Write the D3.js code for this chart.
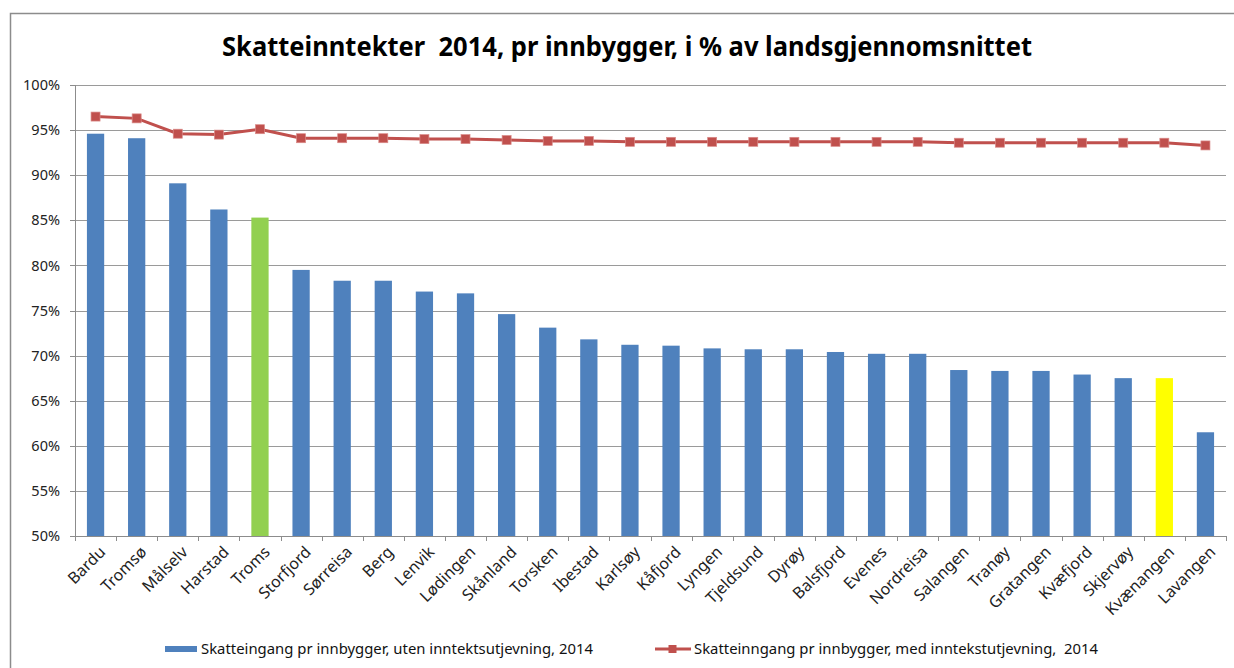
<!DOCTYPE html>
<html>
<head>
<meta charset="utf-8">
<script src="https://cdn.jsdelivr.net/npm/d3@7/dist/d3.min.js"></script>
<style>
  body { margin: 0; background: #fff; }
  svg { display: block; font-family: "Noto Sans", "Open Sans", sans-serif; }
  text { white-space: pre; }
</style>
</head>
<body>
<script>
var kommuner = ['Bardu', 'Tromsø', 'Målselv', 'Harstad', 'Troms', 'Storfjord', 'Sørreisa', 'Berg', 'Lenvik',
  'Lødingen', 'Skånland', 'Torsken', 'Ibestad', 'Karlsøy', 'Kåfjord', 'Lyngen', 'Tjeldsund', 'Dyrøy',
  'Balsfjord', 'Evenes', 'Nordreisa', 'Salangen', 'Tranøy', 'Gratangen', 'Kvæfjord', 'Skjervøy',
  'Kvænangen', 'Lavangen'];

// uten inntektsutjevning (stolper)
var utenUtjevning = [94.6, 94.1, 89.1, 86.2, 85.3, 79.5, 78.3, 78.3, 77.1, 76.9, 74.6, 73.1, 71.8, 71.2,
  71.1, 70.8, 70.7, 70.7, 70.4, 70.2, 70.2, 68.4, 68.3, 68.3, 67.9, 67.5, 67.5, 61.5];

// med inntektsutjevning (linje)
var medUtjevning = [96.5, 96.3, 94.6, 94.5, 95.1, 94.1, 94.1, 94.1, 94.0, 94.0, 93.9, 93.8, 93.8, 93.7,
  93.7, 93.7, 93.7, 93.7, 93.7, 93.7, 93.7, 93.6, 93.6, 93.6, 93.6, 93.6, 93.6, 93.3];

var yTicks = [50, 55, 60, 65, 70, 75, 80, 85, 90, 95, 100];
var tittel = 'Skatteinntekter  2014, pr innbygger, i % av landsgjennomsnittet';
var legendTekst = ['Skatteingang pr innbygger, uten inntektsutjevning, 2014',
  'Skatteinngang pr innbygger, med inntekstutjevning,  2014'];
</script>
<script>
var width = 1234, height = 668;
var margin = { top: 85, right: 8, bottom: 132, left: 75 };
var innerW = 1226 - margin.left;
var innerH = 536 - margin.top;

var data = kommuner.map(function (k, i) {
  return { navn: k, uten: utenUtjevning[i], med: medUtjevning[i] };
});

var svg = d3.select('body').append('svg').attr('width', width).attr('height', height);

// ramme rundt diagrammet
svg.append('rect').attr('x', 10.5).attr('y', 13.5).attr('width', 1400).attr('height', 800)
  .style('fill', 'none').style('stroke', '#8c8c8c').style('stroke-width', '1.5px');

svg.append('text').attr('x', 627).attr('y', 56).attr('text-anchor', 'middle')
  .attr('textLength', 810).attr('lengthAdjust', 'spacingAndGlyphs')
  .style('font-size', '26px').style('font-weight', 'bold').style('fill', '#000')
  .text(tittel);

var g = svg.append('g').attr('transform', 'translate(' + margin.left + ',' + margin.top + ')');

var x = d3.scaleBand().domain(kommuner).range([0, innerW]).paddingInner(0.58).paddingOuter(0.29);
var xc = function (d) { return x(d) + x.bandwidth() / 2; };
var y = d3.scaleLinear().domain([50, 100]).range([innerH, 0]);

// gridlinjer
g.append('g').selectAll('line').data(yTicks).enter().append('line')
  .attr('x1', 0).attr('x2', innerW)
  .attr('y1', function (d) { return Math.round(y(d)) + 0.5; })
  .attr('y2', function (d) { return Math.round(y(d)) + 0.5; })
  .style('stroke', '#9a9a9a').style('stroke-width', '1px');

// y-akse
var yAxis = g.append('g').attr('class', 'axis axis--y')
  .call(d3.axisLeft(y).tickValues(yTicks).tickSize(5).tickPadding(10).tickFormat(function (d) { return d + '%'; }));
yAxis.selectAll('text').style('font-size', '14.5px').style('fill', '#222').style('font-family', '"Noto Sans", sans-serif');

// x-akse med tikker mellom kategoriene
var xAxisG = g.append('g').attr('class', 'axis axis--x').attr('transform', 'translate(0,' + innerH + ')');
xAxisG.append('line').attr('x1', 0).attr('x2', innerW).attr('y1', 0.5).attr('y2', 0.5);
var tickPos = d3.range(kommuner.length + 1).map(function (i) { return i * innerW / kommuner.length; });
xAxisG.selectAll('.tk').data(tickPos).enter().append('line').attr('class', 'tk')
  .attr('x1', function (d) { return Math.round(d) + 0.5; }).attr('x2', function (d) { return Math.round(d) + 0.5; })
  .attr('y1', 0).attr('y2', 5);
xAxisG.selectAll('.lbl').data(kommuner).enter().append('text').attr('class', 'lbl')
  .attr('transform', function (d) { return 'translate(' + (xc(d) + 7) + ',13) rotate(-45)'; })
  .attr('text-anchor', 'end').attr('dy', '0.35em')
  .style('font-size', '16px').style('fill', '#222')
  .text(function (d) { return d; });

d3.selectAll('.axis path').style('stroke', '#8c8c8c').style('shape-rendering', 'crispEdges');
d3.selectAll('.axis line').style('stroke', '#8c8c8c').style('shape-rendering', 'crispEdges');

// stolper
var farge = function (d) {
  if (d.navn === 'Troms') return '#92D050';
  if (d.navn === 'Kvænangen') return '#FFFF00';
  return '#4F81BD';
};
g.append('g').selectAll('rect').data(data).enter().append('rect')
  .attr('x', function (d) { return x(d.navn); })
  .attr('width', x.bandwidth())
  .attr('y', function (d) { return y(d.uten); })
  .attr('height', function (d) { return innerH - y(d.uten); })
  .style('fill', farge);

// linje med firkantmarkører
var line = d3.line().x(function (d) { return xc(d.navn); }).y(function (d) { return y(d.med); });
g.append('path').datum(data).attr('d', line)
  .style('fill', 'none').style('stroke', '#C0504D').style('stroke-width', '3px');
g.append('g').selectAll('rect').data(data).enter().append('rect')
  .attr('x', function (d) { return xc(d.navn) - 4.5; })
  .attr('y', function (d) { return y(d.med) - 4.5; })
  .attr('width', 9).attr('height', 9)
  .style('fill', '#C0504D').style('stroke', '#d98a88').style('stroke-width', '0.7px');

// forklaring
var leg = svg.append('g');
leg.append('rect').attr('x', 165).attr('y', 646).attr('width', 32).attr('height', 6).style('fill', '#4F81BD');
leg.append('text').attr('x', 201).attr('y', 654).attr('textLength', 392).attr('lengthAdjust', 'spacingAndGlyphs')
  .style('font-size', '14.5px').style('fill', '#111').text(legendTekst[0]);
leg.append('line').attr('x1', 655).attr('x2', 691).attr('y1', 649).attr('y2', 649)
  .style('stroke', '#C0504D').style('stroke-width', '3px');
leg.append('rect').attr('x', 668.5).attr('y', 645).attr('width', 8).attr('height', 8).style('fill', '#C0504D');
leg.append('text').attr('x', 694).attr('y', 654).attr('textLength', 404).attr('lengthAdjust', 'spacingAndGlyphs')
  .style('font-size', '14.5px').style('fill', '#111').text(legendTekst[1]);
</script>
</body>
</html>
